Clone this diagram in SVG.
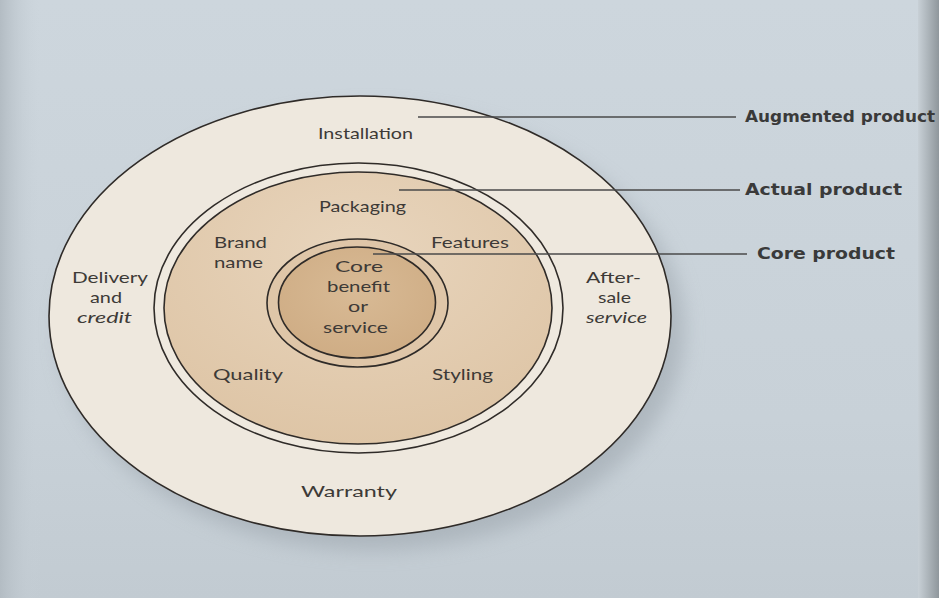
<svg xmlns="http://www.w3.org/2000/svg" width="939" height="598" viewBox="0 0 939 598">
<style>
.ring{stroke:#2f2b28;stroke-width:1.6}
.lbl{font-family:"Lato","Open Sans","DejaVu Sans",sans-serif;font-size:15px;fill:#3d3a37}
.it{font-style:italic}
.key{font-family:"DejaVu Sans","Liberation Sans",sans-serif;font-weight:bold;font-size:15px;fill:#3a3a3a}
.lead{stroke:#4a4a4a;stroke-width:1.3;fill:none}
</style>
<defs>
<linearGradient id="bg" x1="0" y1="0" x2="0" y2="1">
<stop offset="0" stop-color="#cdd6dd"/>
<stop offset="0.7" stop-color="#c8d1d8"/>
<stop offset="1" stop-color="#c2cbd2"/>
</linearGradient>
<linearGradient id="edge" x1="0" y1="0" x2="1" y2="0">
<stop offset="0" stop-color="#c8d0d6"/>
<stop offset="1" stop-color="#8f979c"/>
</linearGradient>
<linearGradient id="ledge" x1="0" y1="0" x2="1" y2="0">
<stop offset="0" stop-color="#b3bcc3"/>
<stop offset="1" stop-color="#c9d2d9" stop-opacity="0"/>
</linearGradient>
<radialGradient id="mid" cx="0.5" cy="0.3" r="0.7">
<stop offset="0" stop-color="#e8d5bd"/>
<stop offset="1" stop-color="#dec5a6"/>
</radialGradient>
<radialGradient id="core" cx="0.5" cy="0.4" r="0.6">
<stop offset="0" stop-color="#d8ba95"/>
<stop offset="1" stop-color="#cfad85"/>
</radialGradient>
<filter id="sh" x="-20%" y="-20%" width="140%" height="140%">
<feGaussianBlur stdDeviation="10"/>
</filter>
</defs>
<rect x="0" y="0" width="939" height="598" fill="url(#bg)"/>
<rect x="0" y="0" width="40" height="598" fill="url(#ledge)"/>
<rect x="918" y="0" width="21" height="598" fill="url(#edge)"/>
<ellipse cx="372" cy="330" rx="312" ry="220" fill="#9aa3aa" opacity="0.55" filter="url(#sh)"/>
<g id="augmented">
<ellipse class="ring" cx="360" cy="316" rx="311" ry="220" fill="#eee8de" stroke-width="2"/>
</g>
<g id="actual">
<ellipse class="ring" cx="358.5" cy="308" rx="204.5" ry="145" fill="#efe9df"/>
<ellipse class="ring" cx="358" cy="308" rx="194" ry="136" fill="url(#mid)"/>
</g>
<g id="core-ring">
<ellipse class="ring" cx="357.5" cy="303" rx="90.5" ry="64" fill="#dfc6a8"/>
<ellipse class="ring" cx="357" cy="302.5" rx="78.5" ry="55.5" fill="url(#core)"/>
</g>
<g id="connectors">
<line class="lead" x1="418" y1="117" x2="736" y2="117"/>
<line class="lead" x1="399" y1="190" x2="740" y2="190"/>
<line class="lead" x1="373" y1="254" x2="747" y2="254"/>
</g>
<g id="label-augmented"><text class="key" x="745" y="122" textLength="190" lengthAdjust="spacingAndGlyphs">Augmented product</text></g>
<g id="label-actual"><text class="key" x="745" y="195" textLength="157" lengthAdjust="spacingAndGlyphs">Actual product</text></g>
<g id="label-core"><text class="key" x="757" y="259" textLength="138" lengthAdjust="spacingAndGlyphs">Core product</text></g>
<g id="installation"><text class="lbl" x="318" y="139" textLength="95" lengthAdjust="spacingAndGlyphs">Installation</text></g>
<g id="packaging"><text class="lbl" x="319" y="212" textLength="87" lengthAdjust="spacingAndGlyphs">Packaging</text></g>
<g id="brand-name"><text class="lbl" x="214" y="248" textLength="53" lengthAdjust="spacingAndGlyphs">Brand</text><text class="lbl" x="214" y="268" textLength="49" lengthAdjust="spacingAndGlyphs">name</text></g>
<g id="features"><text class="lbl" x="431" y="248" textLength="78" lengthAdjust="spacingAndGlyphs">Features</text></g>
<g id="core-benefit">
<text class="lbl" x="335" y="272" textLength="48" lengthAdjust="spacingAndGlyphs">Core</text>
<text class="lbl" x="327" y="292" textLength="63" lengthAdjust="spacingAndGlyphs">benefit</text>
<text class="lbl" x="348" y="312" textLength="20" lengthAdjust="spacingAndGlyphs">or</text>
<text class="lbl" x="323" y="333" textLength="65" lengthAdjust="spacingAndGlyphs">service</text>
</g>
<g id="quality"><text class="lbl" x="213" y="380" textLength="70" lengthAdjust="spacingAndGlyphs">Quality</text></g>
<g id="styling"><text class="lbl" x="432" y="380" textLength="61" lengthAdjust="spacingAndGlyphs">Styling</text></g>
<g id="delivery">
<text class="lbl" x="72" y="283" textLength="76" lengthAdjust="spacingAndGlyphs">Delivery</text>
<text class="lbl" x="90" y="303" textLength="32" lengthAdjust="spacingAndGlyphs">and</text>
<text class="lbl it" x="77" y="323" textLength="55" lengthAdjust="spacingAndGlyphs">credit</text>
</g>
<g id="after-sale">
<text class="lbl" x="586" y="283" textLength="55" lengthAdjust="spacingAndGlyphs">After-</text>
<text class="lbl" x="598" y="303" textLength="33" lengthAdjust="spacingAndGlyphs">sale</text>
<text class="lbl it" x="586" y="323" textLength="61" lengthAdjust="spacingAndGlyphs">service</text>
</g>
<g id="warranty"><text class="lbl" x="301" y="497" textLength="96" lengthAdjust="spacingAndGlyphs">Warranty</text></g>
</svg>
